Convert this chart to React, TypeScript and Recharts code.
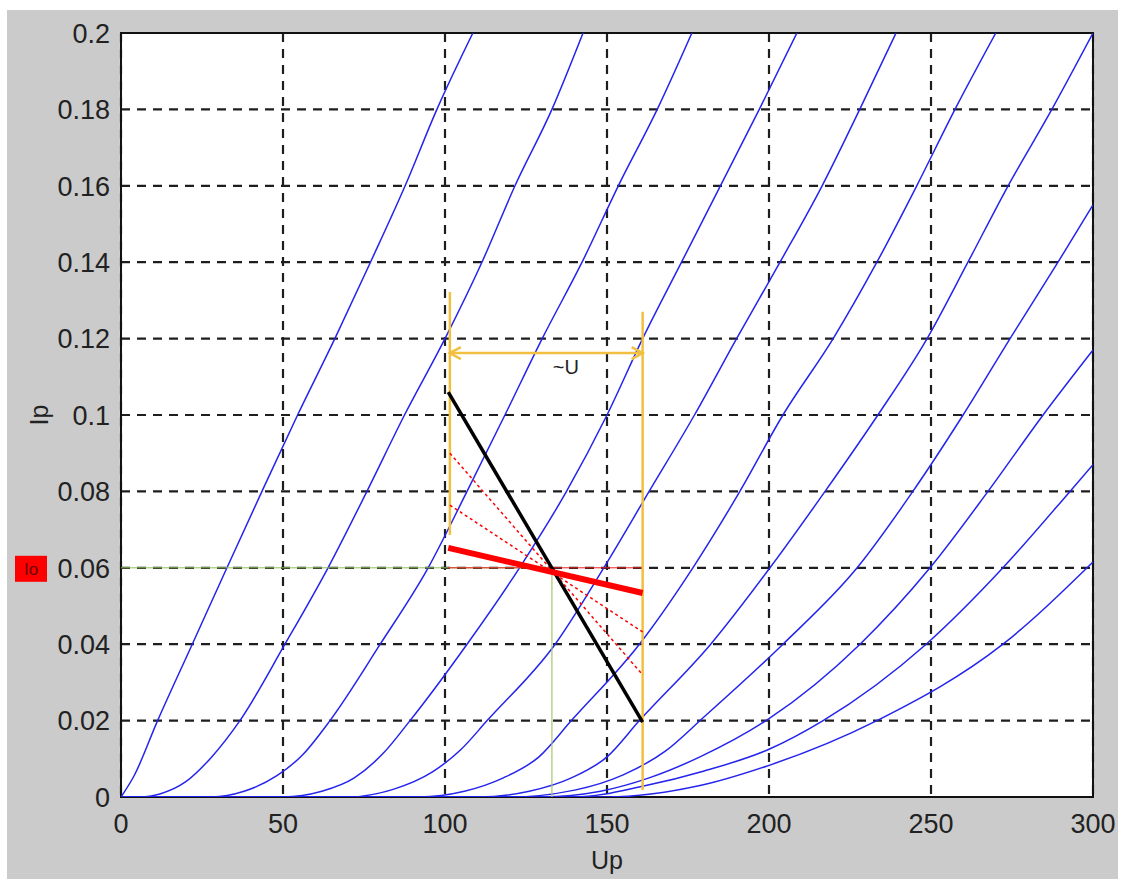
import React from 'react';
import { LineChart, Line, XAxis, YAxis, CartesianGrid, ReferenceArea, ReferenceDot, Label } from 'recharts';

const upTicks = [0, 50, 100, 150, 200, 250, 300];
const ipTicks = [0, 0.02, 0.04, 0.06, 0.08, 0.1, 0.12, 0.14, 0.16, 0.18, 0.2];

// anode characteristics [Up, Ip], one per grid voltage
const curve1 = [[0, 0], [4, 0.0055], [11.3, 0.02], [22, 0.04], [32.7, 0.06], [43.5, 0.08], [54.5, 0.1], [66, 0.12], [77, 0.14], [87.7, 0.16], [97.5, 0.18], [108.6, 0.2]];
const curve2 = [[0, 0], [6, 0], [12, 0.0008], [20, 0.004], [28, 0.0105], [36.7, 0.02], [50.6, 0.04], [63.9, 0.06], [75.9, 0.08], [87.5, 0.1], [100, 0.12], [111.4, 0.14], [121.6, 0.16], [133, 0.18], [142.6, 0.2]];
const curve3 = [[0, 0], [28, 0], [38, 0.0015], [48, 0.0055], [56, 0.011], [64.5, 0.02], [80, 0.04], [94.8, 0.06], [106.8, 0.08], [118.5, 0.1], [130, 0.12], [142.3, 0.14], [153.5, 0.16], [165.5, 0.18], [176.2, 0.2]];
const curve4 = [[0, 0], [50, 0], [62, 0.0015], [72, 0.005], [81, 0.0115], [89.2, 0.02], [106.8, 0.04], [123, 0.06], [137.5, 0.08], [150, 0.1], [161, 0.12], [173, 0.14], [185, 0.16], [197, 0.18], [208.6, 0.2]];
const curve5 = [[0, 0], [70, 0], [84, 0.002], [96, 0.0065], [105, 0.0125], [113, 0.02], [134, 0.04], [149, 0.06], [163, 0.08], [177, 0.1], [190, 0.12], [203.4, 0.14], [216.4, 0.16], [228, 0.18], [239.2, 0.2]];
const curve6 = [[0, 0], [92, 0], [106, 0.0015], [118, 0.005], [129, 0.0105], [139, 0.02], [160, 0.04], [176.5, 0.06], [191, 0.08], [204.3, 0.1], [219.8, 0.12], [233.3, 0.14], [245.6, 0.16], [257.4, 0.18], [270, 0.2]];
const curve7 = [[0, 0], [110, 0], [126, 0.0015], [139, 0.005], [150, 0.0105], [160, 0.02], [182, 0.04], [200.3, 0.06], [217.3, 0.08], [233.6, 0.1], [248.8, 0.12], [261.4, 0.14], [273.8, 0.16], [287.3, 0.18], [300, 0.2]];
const curve8 = [[0, 0], [120, 0], [140, 0.0018], [155, 0.0058], [168, 0.012], [180, 0.021], [204.3, 0.04], [227.2, 0.06], [244.4, 0.08], [259.9, 0.1], [274.4, 0.12], [289.2, 0.14], [300, 0.155]];
const curve9 = [[0, 0], [130, 0], [148, 0.0015], [163, 0.005], [178.7, 0.0105], [200, 0.0205], [228.1, 0.04], [249.7, 0.06], [267.6, 0.08], [284.6, 0.1], [300, 0.117]];
const curve10 = [[0, 0], [140, 0], [162, 0.003], [180, 0.0068], [200, 0.0125], [216.7, 0.02], [248.5, 0.04], [272.2, 0.06], [292.9, 0.08], [300, 0.087]];
const curve11 = [[0, 0], [150, 0], [178.7, 0.003], [199, 0.008], [233.3, 0.02], [272.2, 0.04], [300, 0.0615]];
const curves = [curve1, curve2, curve3, curve4, curve5, curve6, curve7, curve8, curve9, curve10, curve11];

// working point construction
const loadLine = [[101, 0.106], [161, 0.0196]];
const acLoadLine = [[101, 0.0652], [161, 0.0534]];
const dottedA = [[101.5, 0.09], [161, 0.032]];
const dottedB = [[101.5, 0.0764], [161, 0.0432]];
const swingLeft = [[101.5, 0.0686], [101.5, 0.1322]];
const swingRight = [[161, 0.0018], [161, 0.127]];
const swingArrow = [[101.5, 0.1162], [161, 0.1162]];
const ioLevel = [[0, 0.06], [133, 0.06]];
const uoLevel = [[133, 0], [133, 0.06]];
const ioRed = [[101, 0.06], [161, 0.06]];
const swingLabel = { up: 137.3, ip: 0.1126, text: '~U' };
const ioTick = 0.06;

const pts = (a: number[][]) => a.map(([x, y]) => ({ x, y }));
const font = '"Liberation Sans", Arial, sans-serif';
const fmt = (v: number) => (v === 0 ? '0' : String(+v.toFixed(2)));

const YTick = (props: any) => {
  const { x, y, payload } = props;
  return (
    <g>
      {Math.abs(payload.value - ioTick) < 1e-9 && (
        <g>
          <rect x={15} y={y - 12} width={32} height={26} fill="#ff0000" />
          <text x={31} y={y + 7} textAnchor="middle" fontFamily={font} fontSize={17} fill="#6a0000">Io</text>
        </g>
      )}
      <text x={x} y={y} dy="0.36em" textAnchor="end" fontFamily={font} fontSize={27} fill="#222">{fmt(payload.value)}</text>
    </g>
  );
};

const arrowDot = (props: any) => {
  const { cx, cy, index } = props;
  const d = index === 0 ? 1 : -1;
  return (
    <path key={`a${index}`} d={`M${cx + d * 11},${cy - 6} L${cx},${cy} L${cx + d * 11},${cy + 6}`} stroke="#f2c040" strokeWidth={2.5} fill="none" />
  );
};

export default function App() {
  return (
    <div style={{ position: 'absolute', left: 0, top: 0, width: 1122, height: 879, background: '#fff' }}>
      <div style={{ position: 'absolute', left: 7, top: 10, width: 1111, height: 869, background: '#cbcbcb' }} />
      <div style={{ position: 'absolute', left: 0, top: 0 }}>
        <LineChart width={1122} height={879} margin={{ top: 33, right: 29, bottom: 0, left: 0 }}>
          <CartesianGrid fill="#fff" stroke="#1e1e1e" strokeWidth={2.2} strokeDasharray="9 7" />
          <XAxis
            dataKey="x"
            type="number"
            domain={[0, 300]}
            ticks={upTicks}
            allowDataOverflow
            height={82}
            axisLine={false}
            tickLine={false}
            tickSize={0}
            tickMargin={17}
            tick={{ fontFamily: font, fontSize: 27, fill: '#222' }}
          >
            <Label
              content={(p: any) => (
                <text x={p.viewBox.x + p.viewBox.width / 2} y={p.viewBox.y + 72} textAnchor="middle" fontFamily={font} fontSize={25} fill="#222">Up</text>
              )}
            />
          </XAxis>
          <YAxis
            type="number"
            domain={[0, 0.2]}
            ticks={ipTicks}
            allowDataOverflow
            width={121}
            axisLine={false}
            tickLine={false}
            tickSize={0}
            tickMargin={11}
            tick={<YTick />}
          >
            <Label
              content={(p: any) => {
                const cx = p.viewBox.x + 39;
                const cy = p.viewBox.y + p.viewBox.height / 2;
                return (
                  <text x={cx} y={cy} transform={`rotate(-90 ${cx} ${cy})`} dy="0.35em" textAnchor="middle" fontFamily={font} fontSize={25} fill="#222">Ip</text>
                );
              }}
            />
          </YAxis>
          {curves.map((c, i) => (
            <Line key={i} data={pts(c)} dataKey="y" type="monotone" stroke="#2424ee" strokeWidth={1.5} dot={false} activeDot={false} isAnimationActive={false} />
          ))}
          <Line data={pts(ioLevel)} dataKey="y" type="linear" stroke="#8fbf5a" strokeWidth={1} dot={false} activeDot={false} isAnimationActive={false} />
          <Line data={pts(uoLevel)} dataKey="y" type="linear" stroke="#a9c46e" strokeWidth={1.2} dot={false} activeDot={false} isAnimationActive={false} />
          <Line data={pts(ioRed)} dataKey="y" type="linear" stroke="#ee2020" strokeWidth={1} dot={false} activeDot={false} isAnimationActive={false} />
          <Line data={pts(swingLeft)} dataKey="y" type="linear" stroke="#f2c040" strokeWidth={2.5} dot={false} activeDot={false} isAnimationActive={false} />
          <Line data={pts(swingRight)} dataKey="y" type="linear" stroke="#f2c040" strokeWidth={2.5} dot={false} activeDot={false} isAnimationActive={false} />
          <Line data={pts(swingArrow)} dataKey="y" type="linear" stroke="#f2c040" strokeWidth={2.5} dot={arrowDot} activeDot={false} isAnimationActive={false} />
          <Line data={pts(dottedA)} dataKey="y" type="linear" stroke="#ff0000" strokeWidth={1.5} strokeDasharray="3 3" dot={false} activeDot={false} isAnimationActive={false} />
          <Line data={pts(dottedB)} dataKey="y" type="linear" stroke="#ff0000" strokeWidth={1.5} strokeDasharray="3 3" dot={false} activeDot={false} isAnimationActive={false} />
          <Line data={pts(loadLine)} dataKey="y" type="linear" stroke="#000" strokeWidth={3.5} dot={false} activeDot={false} isAnimationActive={false} />
          <Line data={pts(acLoadLine)} dataKey="y" type="linear" stroke="#ff0000" strokeWidth={6} dot={false} activeDot={false} isAnimationActive={false} />
          <ReferenceArea x1={0} x2={300} y1={0} y2={0.2} fill="none" stroke="#111" strokeWidth={2} />
          <ReferenceDot x={swingLabel.up} y={swingLabel.ip} r={0} fill="none" stroke="none">
            <Label value={swingLabel.text} position="center" fontFamily={font} fontSize={20} fill="#222" />
          </ReferenceDot>
        </LineChart>
      </div>
    </div>
  );
}
